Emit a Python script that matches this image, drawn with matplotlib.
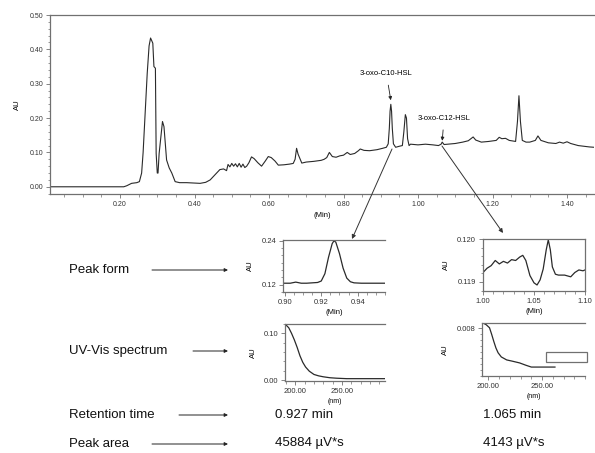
import matplotlib
matplotlib.use("Agg")
import matplotlib.pyplot as plt
from matplotlib.patches import FancyArrowPatch, Rectangle
from matplotlib.ticker import MultipleLocator, FixedLocator

plt.rcParams['font.family'] = ['Liberation Sans', 'DejaVu Sans']

# ---------------- data ----------------
main_time = [0.012, 0.21, 0.218, 0.231, 0.245, 0.252, 0.258, 0.262, 0.267, 0.273, 0.278, 0.282,
             0.288, 0.291, 0.295, 0.297, 0.300, 0.302, 0.305, 0.310, 0.314, 0.318, 0.325, 0.332,
             0.339, 0.348, 0.36, 0.379, 0.40, 0.415, 0.43, 0.442, 0.455, 0.468, 0.478, 0.486,
             0.49, 0.495, 0.50, 0.505, 0.51, 0.515, 0.52, 0.525, 0.53, 0.535, 0.54, 0.546, 0.553,
             0.56, 0.57, 0.58, 0.59, 0.598, 0.606, 0.616, 0.625, 0.64, 0.655, 0.665, 0.670, 0.674,
             0.678, 0.688, 0.70, 0.72, 0.74, 0.748, 0.755, 0.762, 0.77, 0.78, 0.79, 0.80, 0.81,
             0.818, 0.83, 0.84, 0.845, 0.855, 0.87, 0.89, 0.905, 0.915, 0.920, 0.923, 0.925,
             0.927, 0.929, 0.931, 0.934, 0.94, 0.95, 0.958, 0.962, 0.966, 0.969, 0.972, 0.976,
             0.98, 1.00, 1.02, 1.04, 1.055, 1.062, 1.065, 1.070, 1.08, 1.10, 1.12, 1.135, 1.142,
             1.148, 1.155, 1.17, 1.19, 1.21, 1.218, 1.225, 1.235, 1.245, 1.262, 1.267, 1.271,
             1.275, 1.28, 1.29, 1.30, 1.315, 1.322, 1.33, 1.35, 1.37, 1.38, 1.39, 1.40, 1.41,
             1.43, 1.46, 1.4725]
main_au = [0.0, 0.0, 0.003, 0.010, 0.012, 0.015, 0.040, 0.10, 0.204, 0.33, 0.41, 0.433,
           0.418, 0.35, 0.345, 0.097, 0.040, 0.040, 0.097, 0.15, 0.19, 0.175, 0.078, 0.055,
           0.040, 0.015, 0.012, 0.012, 0.011, 0.010, 0.013, 0.020, 0.035, 0.050, 0.052, 0.047,
           0.065, 0.058, 0.068, 0.060, 0.067, 0.058, 0.068, 0.057, 0.066, 0.056, 0.060, 0.070, 0.087,
           0.082, 0.070, 0.060, 0.075, 0.088, 0.085, 0.075, 0.063, 0.064, 0.066, 0.068, 0.080, 0.112,
           0.095, 0.069, 0.072, 0.074, 0.077, 0.080, 0.085, 0.100, 0.088, 0.086, 0.090, 0.092, 0.100,
           0.094, 0.097, 0.105, 0.110, 0.106, 0.105, 0.108, 0.112, 0.115, 0.125, 0.17, 0.22,
           0.240, 0.22, 0.17, 0.125, 0.115, 0.118, 0.120, 0.16, 0.21, 0.20, 0.14, 0.120,
           0.124, 0.122, 0.124, 0.122, 0.120, 0.124, 0.130, 0.123, 0.124, 0.126, 0.130, 0.134, 0.140,
           0.145, 0.136, 0.130, 0.132, 0.135, 0.144, 0.140, 0.141, 0.135, 0.132, 0.19, 0.265,
           0.19, 0.135, 0.130, 0.130, 0.135, 0.148, 0.135, 0.128, 0.126, 0.130, 0.127, 0.131, 0.126,
           0.120, 0.116, 0.115]

c10_time = [0.899, 0.903, 0.906, 0.909, 0.912, 0.915, 0.918, 0.920, 0.922, 0.924, 0.926, 0.927,
            0.928, 0.930, 0.932, 0.934, 0.936, 0.938, 0.942, 0.948, 0.955]
c10_au = [0.124, 0.124, 0.127, 0.124, 0.124, 0.125, 0.126, 0.130, 0.150, 0.195, 0.232, 0.240,
          0.236, 0.205, 0.165, 0.138, 0.128, 0.125, 0.124, 0.124, 0.124]

c12_time = [1.000, 1.004, 1.008, 1.012, 1.016, 1.020, 1.024, 1.028, 1.032, 1.036, 1.039, 1.042,
            1.046, 1.050, 1.053, 1.056, 1.059, 1.062, 1.064, 1.066, 1.068, 1.071, 1.074, 1.080,
            1.086, 1.090, 1.094, 1.098, 1.100]
c12_au = [0.11922, 0.11932, 0.11938, 0.11950, 0.11942, 0.11948, 0.11944, 0.11952, 0.11950, 0.11958,
          0.11962, 0.11950, 0.11915, 0.11898, 0.11893, 0.11905, 0.11930, 0.11975, 0.11998, 0.11975,
          0.11935, 0.11918, 0.11916, 0.11916, 0.11912, 0.11922, 0.11928, 0.11926, 0.11928]

uv1_nm = [190, 193, 196, 199, 202, 205, 208, 211, 215, 220, 225, 230, 237, 244, 255, 270, 296]
uv1_au = [0.118, 0.112, 0.100, 0.086, 0.070, 0.052, 0.038, 0.028, 0.019, 0.012, 0.009, 0.007,
          0.005, 0.004, 0.003, 0.003, 0.003]

uv2_nm = [195, 198, 201, 203, 205, 207, 209, 212, 217, 222, 229, 235, 240, 250, 262]
uv2_au = [0.0089, 0.0086, 0.0081, 0.0070, 0.0058, 0.0047, 0.0039, 0.0032, 0.0027, 0.0025, 0.0022,
          0.0018, 0.0015, 0.0015, 0.0015]

row_labels = ["Peak form", "UV-Vis spectrum", "Retention time", "Peak area"]
retention = ["0.927 min", "1.065 min"]
areas = ["45884 \u00b5V*s", "4143 \u00b5V*s"]
compounds = ["3-oxo-C10-HSL", "3-oxo-C12-HSL"]
compound_rt = [0.927, 1.065]

# ---------------- figure ----------------
W, H = 595, 453
fig = plt.figure(figsize=(W / 100, H / 100), dpi=100)
fig.patch.set_facecolor('white')

LINE = '#2a2a2a'
SPINE = '#707070'


def box(l, r, t, b):
    return [l / W, 1 - b / H, (r - l) / W, (b - t) / H]


def fp(x, y):
    return (x / W, 1 - y / H)


def style(ax, fs, right=False):
    for s in ['left', 'bottom', 'top']:
        ax.spines[s].set_color(SPINE)
        ax.spines[s].set_linewidth(0.9)
    ax.spines['right'].set_visible(right)
    ax.spines['right'].set_color(SPINE)
    ax.spines['right'].set_linewidth(0.9)
    ax.tick_params(which='major', length=3, width=0.6, color=SPINE, labelsize=fs, pad=2,
                   labelcolor='#333333', top=False, right=False)
    ax.tick_params(which='minor', length=1.8, width=0.5, color=SPINE, top=False, right=False)


# main chromatogram
ax = fig.add_axes(box(50, 594, 15, 194))
ax.plot(main_time, main_au, color=LINE, lw=0.8)
ax.set_xlim(0.012, 1.4725)
ax.set_ylim(-0.021, 0.50)
ax.xaxis.set_major_locator(FixedLocator([0.2, 0.4, 0.6, 0.8, 1.0, 1.2, 1.4]))
ax.xaxis.set_minor_locator(MultipleLocator(0.05))
ax.yaxis.set_major_locator(MultipleLocator(0.1))
ax.yaxis.set_minor_locator(MultipleLocator(0.02))
ax.xaxis.set_major_formatter(lambda v, p: f"{v:.2f}")
ax.yaxis.set_major_formatter(lambda v, p: f"{v:.2f}")
style(ax, 5)
ax.set_ylabel("AU", fontsize=5.5, labelpad=6)
ax.set_xlabel("(Min)", fontsize=5.5, labelpad=3)

ax.annotate(compounds[0], xy=(compound_rt[0], 0.252), xytext=(compound_rt[0] - 0.012, 0.33),
            ha='center', va='center', fontsize=5.5,
            arrowprops=dict(arrowstyle='-|>', lw=0.6, color='#222222', mutation_scale=5,
                            shrinkA=4, shrinkB=0))
ax.annotate(compounds[1], xy=(compound_rt[1], 0.134), xytext=(compound_rt[1] + 0.005, 0.20),
            ha='center', va='center', fontsize=5.5,
            arrowprops=dict(arrowstyle='-|>', lw=0.6, color='#222222', mutation_scale=5,
                            shrinkA=4, shrinkB=0))

# inset 1: C10 peak form
a1 = fig.add_axes(box(283, 385, 240, 292))
a1.plot(c10_time, c10_au, color=LINE, lw=0.9)
a1.set_xlim(0.899, 0.955)
a1.set_ylim(0.10, 0.242)
a1.set_xticks([0.90, 0.92, 0.94])
a1.xaxis.set_minor_locator(MultipleLocator(0.005))
a1.set_yticks([0.12, 0.24])
a1.yaxis.set_minor_locator(MultipleLocator(0.02))
a1.xaxis.set_major_formatter(lambda v, p: f"{v:.2f}")
a1.yaxis.set_major_formatter(lambda v, p: f"{v:.2f}")
style(a1, 5.5)
a1.set_ylabel("AU", fontsize=5.5, labelpad=5)
a1.set_xlabel("(Min)", fontsize=5.5, labelpad=2)

# inset 2: C12 peak form
a2 = fig.add_axes(box(483, 585, 239, 291))
a2.plot(c12_time, c12_au, color=LINE, lw=0.9)
a2.set_xlim(1.0, 1.10)
a2.set_ylim(0.11879, 0.12)
a2.set_xticks([1.00, 1.05, 1.10])
a2.xaxis.set_minor_locator(MultipleLocator(0.01))
a2.set_yticks([0.119, 0.120])
a2.yaxis.set_minor_locator(MultipleLocator(0.0002))
a2.xaxis.set_major_formatter(lambda v, p: f"{v:.2f}")
a2.yaxis.set_major_formatter(lambda v, p: f"{v:.3f}")
style(a2, 5.5, right=True)
a2.set_ylabel("AU", fontsize=5.5, labelpad=5)
a2.set_xlabel("(Min)", fontsize=5.5, labelpad=2)

# inset 3: UV spectrum C10
a3 = fig.add_axes(box(285, 385, 324, 381))
a3.plot(uv1_nm, uv1_au, color=LINE, lw=0.9)
a3.set_xlim(189, 296)
a3.set_ylim(-0.002, 0.12)
a3.set_xticks([200, 250])
a3.xaxis.set_minor_locator(MultipleLocator(10))
a3.set_yticks([0.0, 0.10])
a3.yaxis.set_minor_locator(MultipleLocator(0.02))
a3.xaxis.set_major_formatter(lambda v, p: f"{v:.2f}")
a3.yaxis.set_major_formatter(lambda v, p: f"{v:.2f}")
style(a3, 5.5)
a3.set_ylabel("AU", fontsize=5.5, labelpad=5)
a3.set_xlabel("(nm)", fontsize=5, labelpad=2)

# inset 4: UV spectrum C12
a4 = fig.add_axes(box(482, 585, 323, 376))
a4.plot(uv2_nm, uv2_au, color=LINE, lw=0.9)
a4.set_xlim(194, 290)
a4.set_ylim(0.0, 0.0089)
a4.set_xticks([200, 250])
a4.xaxis.set_minor_locator(MultipleLocator(10))
a4.set_yticks([0.008])
a4.yaxis.set_minor_locator(MultipleLocator(0.001))
a4.xaxis.set_major_formatter(lambda v, p: f"{v:.2f}")
a4.yaxis.set_major_formatter(lambda v, p: f"{v:.3f}")
style(a4, 5.5)
a4.set_ylabel("AU", fontsize=5.5, labelpad=5)
a4.set_xlabel("(nm)", fontsize=5, labelpad=2)
a4.add_patch(Rectangle((0.62, 0.26), 0.40, 0.20, transform=a4.transAxes, fill=False,
                       edgecolor=SPINE, lw=0.9, clip_on=False))

# connector arrows
for (x0, y0), (x1, y1) in [((392, 149), (352, 239)), ((442, 146), (503, 233))]:
    fig.add_artist(FancyArrowPatch(fp(x0, y0), fp(x1, y1), transform=fig.transFigure,
                                   arrowstyle='-|>', mutation_scale=6, lw=0.7, color='#333333',
                                   shrinkA=0, shrinkB=0))

# row labels with arrows
rows_y = [270, 351, 415, 444]
arrow_start = [152, 193, 179, 152]
for lab, y, xs in zip(row_labels, rows_y, arrow_start):
    fig.text(69 / W, 1 - y / H, lab, fontsize=9.5, ha='left', va='center', color='#111111')
    fig.add_artist(FancyArrowPatch(fp(xs, y), fp(228, y), transform=fig.transFigure,
                                   arrowstyle='-|>', mutation_scale=5, lw=0.7, color='#222222',
                                   shrinkA=0, shrinkB=0))

for x, rt, ar in zip([275, 483], retention, areas):
    fig.text(x / W, 1 - 415 / H, rt, fontsize=9.5, ha='left', va='center', color='#111111')
    fig.text(x / W, 1 - 443 / H, ar, fontsize=9.5, ha='left', va='center', color='#111111')

fig.savefig("out.png", dpi=100, facecolor='white')
